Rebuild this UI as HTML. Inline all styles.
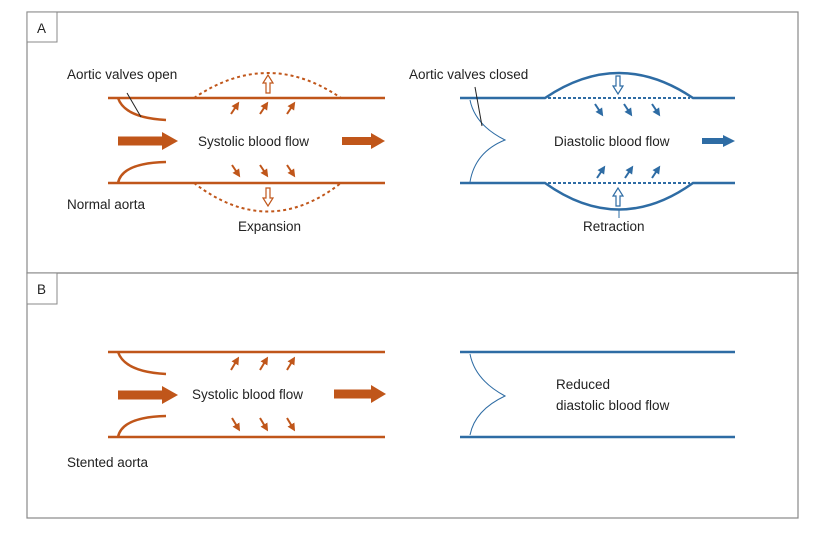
<!DOCTYPE html>
<html><head><style>body{margin:0;background:#fff}svg{display:block}text{font-family:"Liberation Sans",sans-serif;font-size:13.5px;fill:#222}</style></head><body>
<svg width="823" height="539" viewBox="0 0 823 539">
<defs>
<marker id="ah" markerWidth="4" markerHeight="4" refX="2" refY="2" orient="auto" markerUnits="strokeWidth"><path d="M0,0L4,2L0,4z" fill="#c0561a"/></marker>
<marker id="bh" markerWidth="4" markerHeight="4" refX="2" refY="2" orient="auto" markerUnits="strokeWidth"><path d="M0,0L4,2L0,4z" fill="#2e6ca4"/></marker>
</defs>
<rect x="27" y="12" width="771" height="261" fill="none" stroke="#888" stroke-width="1.2"/>
<rect x="27" y="273" width="771" height="245" fill="none" stroke="#888" stroke-width="1.2"/>
<rect x="27" y="12" width="30" height="30" fill="#fff" stroke="#888"/>
<rect x="27" y="273" width="30" height="31" fill="#fff" stroke="#888"/>
<text x="37" y="33">A</text><text x="37" y="294">B</text>

<g stroke="#c0561a" fill="none" stroke-width="2.5">
<line x1="108" y1="98" x2="385" y2="98"/><line x1="108" y1="183" x2="385" y2="183"/>
<path d="M194,98 Q268,48 341,98" stroke-dasharray="3,3" stroke-width="2"/>
<path d="M194,183 Q268,240 341,183" stroke-dasharray="3,3" stroke-width="2"/>
<path d="M118,98 Q125,118 166,120"/><path d="M118,183 Q122,163 166,162"/>
<line x1="118" y1="141" x2="162" y2="141" stroke-width="9"/>
<line x1="342" y1="141" x2="372" y2="141" stroke-width="8"/>
<g stroke-width="2.5"><line x1="231" y1="114" x2="237" y2="105" marker-end="url(#ah)" stroke-width="2"/><line x1="260" y1="114" x2="266" y2="105" marker-end="url(#ah)" stroke-width="2"/><line x1="287" y1="114" x2="293" y2="105" marker-end="url(#ah)" stroke-width="2"/>
<line x1="232" y1="165" x2="238" y2="174" marker-end="url(#ah)" stroke-width="2"/><line x1="260" y1="165" x2="266" y2="174" marker-end="url(#ah)" stroke-width="2"/><line x1="287" y1="165" x2="293" y2="174" marker-end="url(#ah)" stroke-width="2"/></g>
</g>
<path d="M162,132L178,141L162,150z" fill="#c0561a"/><path d="M371,133L385,141L371,149z" fill="#c0561a"/>
<path d="M266,93V83H263L268,75L273,83H270V93z" fill="#fff" stroke="#c0561a" stroke-width="1.2"/>
<path d="M266,188V198H263L268,206L273,198H270V188z" fill="#fff" stroke="#c0561a" stroke-width="1.2"/>
<line x1="127" y1="93" x2="141" y2="117" stroke="#222" stroke-width="1"/>
<text x="67" y="79">Aortic valves open</text>
<text x="198" y="146">Systolic blood flow</text>
<text x="67" y="209">Normal aorta</text>
<text x="238" y="231">Expansion</text>

<g stroke="#2e6ca4" fill="none" stroke-width="2.5">
<path d="M460,98H545Q619,48 693,98H735"/><path d="M460,183H545Q619,236 693,183H735"/>
<line x1="548" y1="98" x2="690" y2="98" stroke-dasharray="3,2" stroke-width="2"/>
<line x1="548" y1="183" x2="690" y2="183" stroke-dasharray="3,2" stroke-width="2"/>
<line x1="702" y1="141" x2="724" y2="141" stroke-width="6"/>
<g stroke-width="2"><line x1="595" y1="104" x2="601" y2="113" marker-end="url(#bh)"/><line x1="624" y1="104" x2="630" y2="113" marker-end="url(#bh)"/><line x1="652" y1="104" x2="658" y2="113" marker-end="url(#bh)"/>
<line x1="597" y1="178" x2="603" y2="169" marker-end="url(#bh)"/><line x1="625" y1="178" x2="631" y2="169" marker-end="url(#bh)"/><line x1="652" y1="178" x2="658" y2="169" marker-end="url(#bh)"/></g>
<path d="M470,100Q475,125 505,140Q475,152 470,182" stroke-width="1"/>
<line x1="619" y1="210" x2="619" y2="218" stroke-width="1"/>
</g>
<path d="M723,135L735,141L723,147z" fill="#2e6ca4"/>
<path d="M616,76V86H613L618,94L623,86H620V76z" fill="#fff" stroke="#2e6ca4" stroke-width="1.2"/>
<path d="M616,206V196H613L618,188L623,196H620V206z" fill="#fff" stroke="#2e6ca4" stroke-width="1.2"/>
<line x1="475" y1="87" x2="482" y2="126" stroke="#222" stroke-width="1"/>
<text x="409" y="79">Aortic valves closed</text>
<text x="554" y="146">Diastolic blood flow</text>
<text x="583" y="231">Retraction</text>

<g stroke="#c0561a" fill="none" stroke-width="2.5">
<line x1="108" y1="352" x2="385" y2="352"/><line x1="108" y1="437" x2="385" y2="437"/>
<path d="M118,352 Q125,372 166,374"/><path d="M118,437 Q122,417 166,416"/>
<line x1="118" y1="395" x2="162" y2="395" stroke-width="9"/>
<line x1="334" y1="394" x2="372" y2="394" stroke-width="9"/>
<g stroke-width="2"><line x1="231" y1="370" x2="237" y2="360" marker-end="url(#ah)"/><line x1="260" y1="370" x2="266" y2="360" marker-end="url(#ah)"/><line x1="287" y1="370" x2="293" y2="360" marker-end="url(#ah)"/>
<line x1="232" y1="418" x2="238" y2="428" marker-end="url(#ah)"/><line x1="260" y1="418" x2="266" y2="428" marker-end="url(#ah)"/><line x1="287" y1="418" x2="293" y2="428" marker-end="url(#ah)"/></g>
</g>
<path d="M162,386L178,395L162,404z" fill="#c0561a"/><path d="M371,385L386,394L371,403z" fill="#c0561a"/>
<text x="192" y="399">Systolic blood flow</text>
<text x="67" y="467">Stented aorta</text>

<g stroke="#2e6ca4" fill="none" stroke-width="2.5">
<line x1="460" y1="352" x2="735" y2="352"/><line x1="460" y1="437" x2="735" y2="437"/>
<path d="M470,354Q475,380 505,396Q475,410 470,435" stroke-width="1"/>
</g>
<text x="556" y="389">Reduced</text>
<text x="556" y="410">diastolic blood flow</text>
</svg>
</body></html>
